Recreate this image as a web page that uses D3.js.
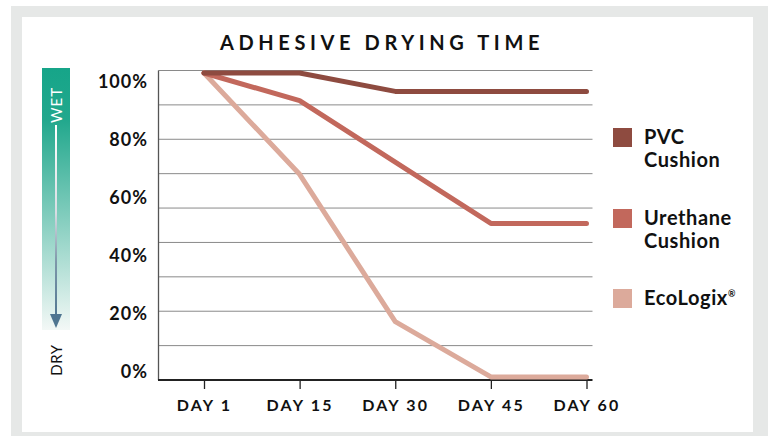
<!DOCTYPE html>
<html>
<head>
<meta charset="utf-8">
<script src="https://cdn.jsdelivr.net/npm/d3@7"></script>
<style>
  body { margin: 0; background: #fff; }
  text { font-family: Lato, "Noto Sans", sans-serif; fill: #111; }
</style>
</head>
<body>
<div class="chart"></div>
<script>
// Adhesive drying time chart

var svgWidth = 768;
var svgHeight = 436;

// data
var days = ["DAY 1", "DAY 15", "DAY 30", "DAY 45", "DAY 60"];
var pvcValues = [100, 100, 94, 94, 94];
var urethaneValues = [100, 91, 71, 51, 51];
var ecoValues = [100, 67, 19, 1, 1];
var seriesNames = ["PVC Cushion", "Urethane Cushion", "EcoLogix"];
var yTickLabels = [0, 20, 40, 60, 80, 100];

var colors = ["#8e4b40", "#c2685c", "#dcaa9b"];

var svg = d3
  .select(".chart")
  .append("svg")
  .attr("width", svgWidth)
  .attr("height", svgHeight);

// gray frame and white panel
svg.append("rect")
  .attr("x", 11).attr("y", 6)
  .attr("width", svgWidth - 11).attr("height", svgHeight - 6)
  .attr("fill", "#e6e8e7");
svg.append("rect")
  .attr("x", 22).attr("y", 17)
  .attr("width", 731).attr("height", 415)
  .attr("fill", "#fff");

// title
svg.append("text")
  .attr("x", 382)
  .attr("y", 50)
  .attr("text-anchor", "middle")
  .style("font-size", "20px")
  .style("font-weight", "700")
  .style("letter-spacing", "4.6px")
  .text("ADHESIVE DRYING TIME");

// scales
var plotLeft = 158.5, plotRight = 592.5, plotTop = 70.5, plotBottom = 380;

var xScale = d3.scalePoint()
  .domain(days)
  .range([204, 586.5]);

var yScale = d3.scaleLinear()
  .domain([0, 100])
  .range([plotBottom, 73]);

// the printed labels sit a bit off the gridlines in the original
var yLabelScale = d3.scaleLinear()
  .domain([0, 100])
  .range([372, 82]);

var gridScale = d3.scaleLinear()
  .domain([0, 9])
  .range([plotBottom, plotTop]);

// gridlines
svg.append("g")
  .selectAll("line")
  .data(d3.range(1, 10))
  .enter().append("line")
    .attr("x1", plotLeft)
    .attr("x2", plotRight)
    .attr("y1", function(d) { return gridScale(d); })
    .attr("y2", function(d) { return gridScale(d); })
    .attr("stroke", "#8a8a8a")
    .attr("stroke-width", 1);

// left axis line
svg.append("line")
  .attr("x1", plotLeft).attr("x2", plotLeft)
  .attr("y1", plotTop).attr("y2", plotBottom)
  .attr("stroke", "#555")
  .attr("stroke-width", 1.3);

// y labels
var leftAxis = d3.axisLeft(yLabelScale)
  .tickValues(yTickLabels)
  .tickSize(0)
  .tickPadding(0)
  .tickFormat(function(d) { return d + "%"; });

var yAxisG = svg.append("g")
  .attr("transform", "translate(148,0)")
  .call(leftAxis);
yAxisG.select(".domain").remove();
yAxisG.selectAll("text")
  .style("font-size", "18px")
  .style("font-weight", "700")
  .style("letter-spacing", "1px")
  .attr("fill", "#111");

// bottom axis
var bottomAxis = d3.axisBottom(xScale)
  .tickSize(9)
  .tickPadding(11);

var xAxisG = svg.append("g")
  .attr("transform", "translate(0," + plotBottom + ")")
  .call(bottomAxis);
xAxisG.select(".domain").remove();
xAxisG.selectAll("line").attr("stroke", "#222").attr("stroke-width", 1.3);
xAxisG.selectAll("text")
  .style("font-size", "16px")
  .style("font-weight", "700")
  .style("letter-spacing", "2.2px")
  .attr("fill", "#111");

svg.append("line")
  .attr("x1", plotLeft - 0.5).attr("x2", plotRight)
  .attr("y1", plotBottom).attr("y2", plotBottom)
  .attr("stroke", "#222")
  .attr("stroke-width", 2);

// lines
var line = d3.line()
  .x(function(d, i) { return xScale(days[i]); })
  .y(function(d) { return yScale(d); });

var allSeries = [ecoValues, urethaneValues, pvcValues];
var seriesColors = [colors[2], colors[1], colors[0]];

svg.append("g")
  .selectAll("path")
  .data(allSeries)
  .enter().append("path")
    .attr("d", line)
    .attr("fill", "none")
    .attr("stroke", function(d, i) { return seriesColors[i]; })
    .attr("stroke-width", 5)
    .attr("stroke-linecap", "round")
    .attr("stroke-linejoin", "round");

// legend
var legendY = [128, 209, 289];
var legendLines = [["PVC", "Cushion"], ["Urethane", "Cushion"], ["EcoLogix"]];

var legend = svg.append("g");
seriesNames.forEach(function(name, i) {
  legend.append("rect")
    .attr("x", 613)
    .attr("y", legendY[i])
    .attr("width", 19)
    .attr("height", 19)
    .attr("fill", colors[i]);
  var t = legend.append("text")
    .attr("x", 644)
    .attr("y", legendY[i] + 16)
    .style("font-size", "20px")
    .style("font-weight", "700")
    .style("letter-spacing", "0.6px");
  legendLines[i].forEach(function(part, j) {
    t.append("tspan")
      .attr("x", 644)
      .attr("dy", j === 0 ? 0 : 23)
      .text(part);
  });
  if (i === 2) {
    t.append("tspan")
      .attr("dy", -8)
      .style("font-size", "9px")
      .text("®");
  }
});

// wet / dry gradient bar
var defs = svg.append("defs");
var barGrad = defs.append("linearGradient")
  .attr("id", "barGrad")
  .attr("x1", 0).attr("y1", 0).attr("x2", 0).attr("y2", 1);
barGrad.append("stop").attr("offset", "0").attr("stop-color", "#16a589");
barGrad.append("stop").attr("offset", "0.2").attr("stop-color", "#22a88d");
barGrad.append("stop").attr("offset", "1").attr("stop-color", "#f3f8f6");

var arrowGrad = defs.append("linearGradient")
  .attr("id", "arrowGrad")
  .attr("gradientUnits", "userSpaceOnUse")
  .attr("x1", 0).attr("y1", 125).attr("x2", 0).attr("y2", 320);
arrowGrad.append("stop").attr("offset", "0").attr("stop-color", "#ffffff");
arrowGrad.append("stop").attr("offset", "0.45").attr("stop-color", "#d8dde3");
arrowGrad.append("stop").attr("offset", "0.7").attr("stop-color", "#7e97aa");
arrowGrad.append("stop").attr("offset", "1").attr("stop-color", "#4f7590");

svg.append("rect")
  .attr("x", 42).attr("y", 68)
  .attr("width", 28).attr("height", 262)
  .attr("fill", "url(#barGrad)");

svg.append("text")
  .attr("transform", "translate(62,105) rotate(-90)")
  .attr("text-anchor", "middle")
  .style("font-size", "15px")
  .style("font-weight", "400")
  .style("letter-spacing", "1px")
  .style("fill", "#fff")
  .text("WET");

svg.append("line")
  .attr("x1", 56).attr("x2", 56)
  .attr("y1", 125).attr("y2", 318)
  .attr("stroke", "url(#arrowGrad)")
  .attr("stroke-width", 2);

svg.append("path")
  .attr("d", "M50,314 L62,314 L56,328 Z")
  .attr("fill", "#4f7590");

svg.append("text")
  .attr("transform", "translate(62,360) rotate(-90)")
  .attr("text-anchor", "middle")
  .style("font-size", "15px")
  .style("font-weight", "400")
  .style("letter-spacing", "0.5px")
  .text("DRY");
</script>
</body>
</html>
